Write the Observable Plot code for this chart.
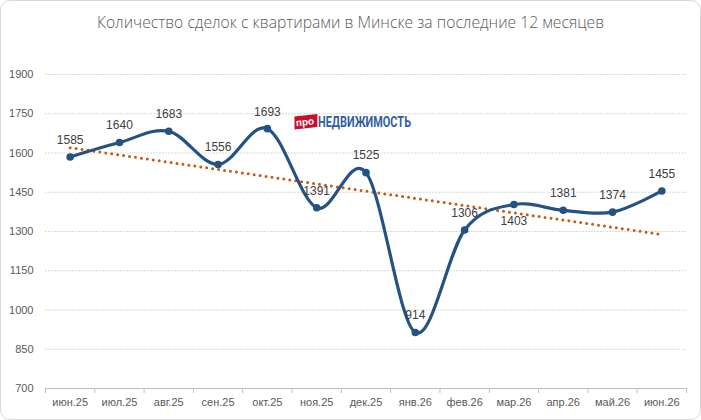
<!DOCTYPE html>
<html>
<head>
<meta charset="utf-8">
<script src="https://cdn.jsdelivr.net/npm/d3@7"></script>
<script src="https://cdn.jsdelivr.net/npm/@observablehq/plot@0.6"></script>
<style>
  html, body { margin: 0; padding: 0; background: #fff; }
  #wrap { position: relative; width: 701px; height: 420px; overflow: hidden; font-family: "Liberation Sans", Arial, sans-serif; }
  #frame { position: absolute; left: 0; top: 0; width: 699px; height: 418px; border: 1px solid #d9d9d9; border-radius: 10px; pointer-events: none; }
  #title { position: absolute; left: 0; top: 11px; width: 701px; text-align: center; font-family: "Open Sans", sans-serif; font-weight: 300; font-size: 15.7px; color: #595959; }
  #chart { position: absolute; left: 0; top: 40px; }
</style>
</head>
<body>
<div id="wrap">
  <div id="title">Количество сделок с квартирами в Минске за последние 12 месяцев</div>
  <div id="chart"></div>
  <div id="frame"></div>
</div>
<script>
const months = ["июн.25","июл.25","авг.25","сен.25","окт.25","ноя.25","дек.25","янв.26","фев.26","мар.26","апр.26","май.26","июн.26"];
const deals = [1585, 1640, 1683, 1556, 1693, 1391, 1525, 914, 1306, 1403, 1381, 1374, 1455];
const yTicks = [700, 850, 1000, 1150, 1300, 1450, 1600, 1750, 1900];

const data = months.map((m, i) => ({i, month: m, value: deals[i]}));
const boundaries = d3.range(months.length + 1).map(k => k - 0.5);
const belowLabel = new Set(["мар.26"]);

const lineColor = "#245282";
const textColor = "#595959";

const plot = Plot.plot({
  width: 701,
  height: 375,
  marginLeft: 45,
  marginRight: 15,
  marginTop: 34,
  marginBottom: 27,
  style: {fontFamily: "Liberation Sans, Arial, sans-serif", fontSize: "11px", color: textColor, background: "transparent"},
  x: {type: "linear", domain: [-0.5, months.length - 0.5], label: null},
  y: {domain: [700, 1900], label: null},
  marks: [
    Plot.ruleY(yTicks.filter(t => t > 700), {stroke: "#d9d9d9", strokeWidth: 1, strokeDasharray: "2,1"}),
    Plot.ruleY([700], {stroke: "#bfbfbf", strokeWidth: 1}),
    Plot.axisY({ticks: yTicks, tickSize: 0, tickPadding: 12, tickFormat: d => String(d), fill: textColor, label: null}),
    Plot.axisX({ticks: boundaries, tickSize: 5, tickFormat: () => "", stroke: "#bfbfbf", label: null}),
    Plot.axisX({ticks: d3.range(months.length), tickSize: 0, tickPadding: 10, tickFormat: k => months[k], fill: textColor, label: null}),
    Plot.linearRegressionY(data, {x: "i", y: "value", ci: 0, stroke: "#c55a11", strokeWidth: 3, strokeDasharray: "0,6", strokeLinecap: "round"}),
    Plot.line(data, {x: "i", y: "value", curve: "cardinal", stroke: lineColor, strokeWidth: 3.2}),
    Plot.dot(data, {x: "i", y: "value", r: 3.8, fill: lineColor}),
    Plot.text(data.filter(d => !belowLabel.has(d.month)), {x: "i", y: "value", text: d => String(d.value), dy: -17, fill: "#404040", fontSize: 12}),
    Plot.text(data.filter(d => belowLabel.has(d.month)), {x: "i", y: "value", text: d => String(d.value), dy: 17, fill: "#404040", fontSize: 12})
  ]
});

document.getElementById("chart").appendChild(plot);

// watermark logo
const sx = plot.scale("x"), sy = plot.scale("y");
const svg = d3.select(plot);
const lx = sx.apply(4.55), ly = sy.apply(1700);
const g = svg.append("g").attr("transform", `translate(${lx},${ly})`).attr("text-anchor", "start");
g.append("rect").attr("x", 0).attr("y", -11).attr("width", 23).attr("height", 13)
  .attr("fill", "#c8102e").attr("transform", "rotate(-6 11 -4) skewX(-6)");
g.append("text").attr("x", 11).attr("y", -1).attr("text-anchor", "middle")
  .attr("font-family", "Liberation Sans, Arial, sans-serif").attr("font-size", 10).attr("font-weight", "bold")
  .attr("fill", "#fff").attr("transform", "rotate(-6 11 -4)").text("про");
g.append("text").attr("x", 24).attr("y", 1).attr("text-anchor", "start")
  .attr("font-family", "Roboto, Liberation Sans, sans-serif").attr("font-size", 15.5).attr("font-weight", "bold")
  .attr("fill", "#2f5f9e").attr("textLength", 93).attr("lengthAdjust", "spacingAndGlyphs").text("НЕДВИЖИМОСТЬ");
</script>
</body>
</html>
